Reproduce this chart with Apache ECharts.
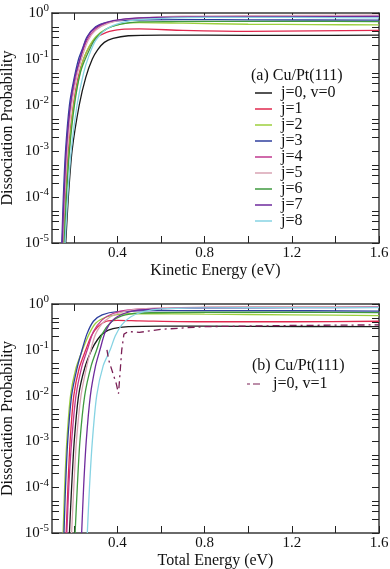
<!DOCTYPE html>
<html>
<head>
<meta charset="utf-8">
<title>Dissociation Probability</title>
<script src="https://cdn.jsdelivr.net/npm/echarts@6/dist/echarts.min.js"></script>
<style>
    html, body { margin: 0; padding: 0; background: #fff; }
    #chart { width: 390px; height: 569px; }
</style>
</head>
<body>
<div id="chart"></div>
<script>
// tick positions
var xTicks = [0.2, 0.4, 0.6, 0.8, 1.0, 1.2, 1.4, 1.6];
var xLabels = [0.4, 0.8, 1.2, 1.6];
var yTicks = [1e-5, 2e-5, 3e-5, 4e-5, 5e-5, 1e-4, 2e-4, 3e-4, 4e-4, 5e-4,
    1e-3, 2e-3, 3e-3, 4e-3, 5e-3, 1e-2, 2e-2, 3e-2, 4e-2, 5e-2,
    0.1, 0.2, 0.3, 0.4, 0.5, 1];

var names = ['j=0, v=0', 'j=1', 'j=2', 'j=3', 'j=4', 'j=5', 'j=6', 'j=7', 'j=8'];
var colors = ['#1a1a1a', '#e0284e', '#9ccf3c', '#2f3f9e', '#c0388f', '#d9a3b3', '#3f9a3f', '#6e2a9c', '#86d3e3'];

// (a) kinetic energy [eV, probability]
var kinJ0 = [[0.163,1e-5],[0.175,1e-4],[0.192,1e-3],[0.225,1e-2],[0.255,0.04],[0.285,0.1],[0.31,0.16],[0.34,0.23],[0.38,0.28],[0.45,0.32],[0.6,0.33],[0.8,0.33],[1.2,0.325],[1.6,0.33]];
var kinJ1 = [[0.152,1e-5],[0.162,1e-4],[0.175,1e-3],[0.198,1e-2],[0.22,0.04],[0.245,0.1],[0.27,0.18],[0.3,0.28],[0.35,0.38],[0.42,0.44],[0.5,0.45],[0.7,0.42],[1.0,0.4],[1.3,0.41],[1.6,0.42]];
var kinJ2 = [[0.155,1e-5],[0.165,1e-4],[0.178,1e-3],[0.2,1e-2],[0.235,0.07],[0.26,0.15],[0.3,0.3],[0.35,0.45],[0.42,0.58],[0.5,0.62],[0.7,0.6],[1.0,0.57],[1.3,0.56],[1.6,0.55]];
var kinJ3 = [[0.145,1e-5],[0.152,1e-4],[0.162,1e-3],[0.18,1e-2],[0.2,0.035],[0.222,0.1],[0.24,0.17],[0.26,0.3],[0.3,0.5],[0.35,0.62],[0.45,0.7],[0.7,0.72],[1.0,0.71],[1.6,0.7]];
var kinJ4 = [[0.148,1e-5],[0.156,1e-4],[0.167,1e-3],[0.186,1e-2],[0.21,0.04],[0.23,0.1],[0.26,0.25],[0.3,0.45],[0.35,0.6],[0.42,0.72],[0.6,0.8],[1.0,0.83],[1.6,0.85]];
var kinJ5 = [[0.15,1e-5],[0.158,1e-4],[0.17,1e-3],[0.19,1e-2],[0.215,0.045],[0.235,0.1],[0.265,0.25],[0.3,0.42],[0.36,0.6],[0.45,0.75],[0.7,0.85],[1.0,0.88],[1.6,0.9]];
var kinJ6 = [[0.156,1e-5],[0.166,1e-4],[0.18,1e-3],[0.203,1e-2],[0.23,0.05],[0.26,0.12],[0.3,0.28],[0.35,0.45],[0.42,0.58],[0.5,0.64],[0.8,0.66],[1.2,0.66],[1.6,0.65]];
var kinJ7 = [[0.147,1e-5],[0.155,1e-4],[0.165,1e-3],[0.184,1e-2],[0.205,0.04],[0.228,0.1],[0.25,0.22],[0.28,0.4],[0.32,0.55],[0.38,0.68],[0.5,0.78],[0.8,0.82],[1.2,0.83],[1.6,0.84]];
var kinJ8 = [[0.16,1e-5],[0.172,1e-4],[0.188,1e-3],[0.215,1e-2],[0.245,0.05],[0.27,0.12],[0.3,0.25],[0.35,0.45],[0.42,0.62],[0.5,0.72],[0.8,0.8],[1.2,0.8],[1.6,0.78]];

// (b) total energy [eV, probability]
var totJ0 = [[0.18,1e-5],[0.19,1e-4],[0.202,1e-3],[0.222,1e-2],[0.25,0.04],[0.282,0.1],[0.31,0.17],[0.34,0.24],[0.38,0.29],[0.45,0.32],[0.6,0.33],[1.0,0.325],[1.6,0.32]];
var totJ1 = [[0.165,1e-5],[0.173,1e-4],[0.183,1e-3],[0.2,1e-2],[0.225,0.04],[0.255,0.1],[0.28,0.2],[0.31,0.32],[0.35,0.42],[0.4,0.44],[0.5,0.43],[0.8,0.41],[1.2,0.41],[1.6,0.42]];
var totJ2 = [[0.151,1e-5],[0.158,1e-4],[0.168,1e-3],[0.185,1e-2],[0.21,0.04],[0.24,0.1],[0.27,0.22],[0.3,0.38],[0.35,0.52],[0.42,0.6],[0.5,0.62],[0.8,0.6],[1.2,0.58],[1.6,0.56]];
var totJ3 = [[0.155,1e-5],[0.162,1e-4],[0.172,1e-3],[0.19,1e-2],[0.215,0.04],[0.238,0.1],[0.26,0.22],[0.29,0.42],[0.33,0.58],[0.4,0.68],[0.6,0.72],[1.0,0.72],[1.6,0.7]];
var totJ4 = [[0.168,1e-5],[0.177,1e-4],[0.19,1e-3],[0.21,1e-2],[0.238,0.045],[0.262,0.1],[0.29,0.25],[0.33,0.45],[0.38,0.62],[0.45,0.74],[0.6,0.8],[1.0,0.83],[1.6,0.85]];
var totJ5 = [[0.19,1e-5],[0.2,1e-4],[0.212,1e-3],[0.233,1e-2],[0.26,0.045],[0.278,0.1],[0.3,0.22],[0.34,0.42],[0.4,0.62],[0.5,0.78],[0.8,0.86],[1.2,0.88],[1.6,0.88]];
var totJ6 = [[0.206,1e-5],[0.216,1e-4],[0.228,1e-3],[0.25,1e-2],[0.28,0.045],[0.305,0.1],[0.33,0.22],[0.37,0.4],[0.42,0.55],[0.5,0.63],[0.8,0.66],[1.2,0.66],[1.6,0.65]];
var totJ7 = [[0.236,1e-5],[0.245,1e-4],[0.257,1e-3],[0.276,1e-2],[0.3,0.045],[0.32,0.1],[0.345,0.25],[0.38,0.45],[0.43,0.62],[0.5,0.74],[0.8,0.82],[1.2,0.83],[1.6,0.84]];
var totJ8 = [[0.262,1e-5],[0.272,1e-4],[0.285,1e-3],[0.305,1e-2],[0.335,0.045],[0.367,0.1],[0.39,0.2],[0.42,0.35],[0.46,0.52],[0.52,0.68],[0.6,0.78],[0.8,0.82],[1.2,0.83],[1.6,0.83]];
var totV1 = [[0.352,0.1],[0.36,0.06],[0.38,0.03],[0.395,0.018],[0.405,0.011],[0.42,0.1],[0.43,0.22],[0.45,0.25],[0.5,0.24],[0.6,0.28],[0.8,0.32],[1.2,0.34],[1.6,0.35]];

var kinData = [kinJ0, kinJ1, kinJ2, kinJ3, kinJ4, kinJ5, kinJ6, kinJ7, kinJ8];
var totData = [totJ0, totJ1, totJ2, totJ3, totJ4, totJ5, totJ6, totJ7, totJ8];

var serif = 'Liberation Serif';
var frame = '#3a3a3a';
var xMin = 0.1, xMax = 1.6, yMin = 1e-5, yMax = 1;

// small shallow merge, enough for the axis pieces below
function extend(target){
    for (var i = 1; i < arguments.length; i++) {
        var src = arguments[i];
        for (var k in src) target[k] = src[k];
    }
    return target;
}

var tickStyle = {show: true, inside: true, length: 7, lineStyle: {color: '#222', width: 1}};

function xAxes(g, name){
    var base = {
        type: 'value', gridIndex: g, min: xMin, max: xMax,
        axisLine: {show: true, onZero: false, lineStyle: {color: frame, width: 1.5}},
        axisTick: extend({customValues: xTicks}, tickStyle),
        splitLine: {show: false}
    };
    var bottom = extend({}, base, {
        position: 'bottom', name: name, nameLocation: 'middle', nameGap: 20, nameMoveOverlap: false,
        nameTextStyle: {fontFamily: serif, fontSize: 16, color: '#111'},
        axisLabel: {customValues: xLabels, margin: 3, fontFamily: serif, fontSize: 15, color: '#111',
            formatter: function(v){ return v.toFixed(1); }}
    });
    var top = extend({}, base, {position: 'top', axisLabel: {show: false}});
    return [bottom, top];
}

// log axes carry the data and the 10^n labels; two value axes in
// decade units only carry the 2..5 x 10^n tick marks
function yAxes(g){
    var base = {
        type: 'log', logBase: 10, gridIndex: g, min: yMin, max: yMax,
        axisLine: {show: true, onZero: false, lineStyle: {color: frame, width: 1.5}},
        axisTick: {show: false},
        splitLine: {show: false}
    };
    var left = extend({}, base, {
        position: 'left', name: 'Dissociation Probability', nameLocation: 'middle', nameGap: 36, nameMoveOverlap: false,
        nameTextStyle: {fontFamily: serif, fontSize: 16, color: '#111'},
        axisLabel: {margin: 3, fontFamily: serif, fontSize: 15, color: '#111',
            formatter: function(v){ return '{b|10}{s|' + Math.round(Math.log10(v)) + '}'; },
            rich: {
                b: {fontFamily: serif, fontSize: 15, color: '#111'},
                s: {fontFamily: serif, fontSize: 11, color: '#111', verticalAlign: 'top', padding: [0, 0, 9, 0]}
            }}
    });
    var right = extend({}, base, {position: 'right', axisLabel: {show: false}});
    var tickBase = {
        type: 'value', gridIndex: g, min: Math.log10(yMin), max: Math.log10(yMax),
        axisLine: {show: false}, axisLabel: {show: false}, splitLine: {show: false},
        axisTick: extend({customValues: yTicks.map(function(v){ return Math.log10(v); })}, tickStyle)
    };
    return [left, right,
        extend({}, tickBase, {position: 'left'}),
        extend({}, tickBase, {position: 'right'})];
}

var series = [];
kinData.forEach(function(d, i){
    series.push({
        name: names[i], type: 'line', xAxisIndex: 0, yAxisIndex: 0, data: d,
        symbol: 'none', smooth: 0.25, color: colors[i],
        lineStyle: {width: 1.3, color: colors[i]}, z: 2 + i
    });
});
totData.forEach(function(d, i){
    series.push({
        name: 'tot ' + names[i], type: 'line', xAxisIndex: 2, yAxisIndex: 4, data: d,
        symbol: 'none', smooth: 0.25, color: colors[i],
        lineStyle: {width: 1.3, color: colors[i]}, z: 2 + i
    });
});
series.push({
    name: 'j=0, v=1', type: 'line', xAxisIndex: 2, yAxisIndex: 4, data: totV1,
    symbol: 'none', color: '#7a1f55',
    lineStyle: {width: 1.3, color: '#7a1f55', type: [7, 4, 2, 4]}, z: 12
});

var option = {
    animation: false,
    backgroundColor: '#fff',
    grid: [
        {left: 52, top: 13, width: 327, height: 230, outerBoundsMode: 'none', containLabel: false},
        {left: 52, top: 304, width: 327, height: 229, outerBoundsMode: 'none', containLabel: false}
    ],
    xAxis: xAxes(0, 'Kinetic Energy (eV)').concat(xAxes(1, 'Total Energy (eV)')),
    yAxis: yAxes(0).concat(yAxes(1)),
    title: [
        {text: '(a) Cu/Pt(111)', left: 246, top: 63, textStyle: {fontFamily: serif, fontSize: 16, fontWeight: 'normal', color: '#111'}},
        {text: '(b) Cu/Pt(111)', left: 247, top: 353, textStyle: {fontFamily: serif, fontSize: 16, fontWeight: 'normal', color: '#111'}}
    ],
    legend: [
        {
            data: names, orient: 'vertical', left: 250, top: 80,
            icon: 'rect', itemWidth: 17, itemHeight: 1.5, itemGap: 0,
            textStyle: {fontFamily: serif, fontSize: 16, color: '#111', lineHeight: 16, padding: [0, 0, 0, 4]},
            selectedMode: false
        },
        {
            data: ['j=0, v=1'], orient: 'vertical', left: 242, top: 371,
            icon: 'path://M0,0h3v1h-3z M6,0h7v1h-7z', itemWidth: 13, itemHeight: 1.5,
            textStyle: {fontFamily: serif, fontSize: 16, color: '#111', padding: [0, 0, 0, 8]},
            selectedMode: false
        }
    ],
    series: series
};

var chart = echarts.init(document.getElementById('chart'));
chart.setOption(option);
</script>
</body>
</html>
